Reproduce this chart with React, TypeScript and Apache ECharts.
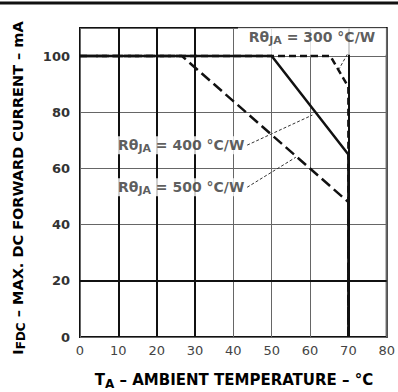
import React, { useEffect, useRef } from "react";
import * as echarts from "echarts";

const xMin = 0;
const xMax = 80;
const xStep = 10;
const yMin = 0;
const yMax = 110;
const yStep = 20;

const r300: number[][] = [[0, 100], [65.3, 100], [70, 89], [70, 0]];
const r400: number[][] = [[0, 100], [50, 100], [70, 65], [70, 0]];
const r500: number[][] = [[0, 100], [26.6, 100], [70, 48], [70, 0]];

const leader300: number[][] = [[69.7, 100.6], [67.6, 95.5]];
const leader400: number[][] = [[43.6, 68.3], [60.6, 79]];
const leader500: number[][] = [[43.6, 53.3], [56.3, 64]];

const thickX = [10, 20, 30, 70];
const thickY = [20];

const labelPos300 = [60.5, 105.3];
const labelPos400 = [43.4, 68.3];
const labelPos500 = [43.4, 53.3];
const labelR = ["300", "400", "500"];

const FONT = "DejaVu Sans, Verdana, sans-serif";

const rich = {
  a: { fontSize: 14, fontFamily: FONT, color: "#333", fontWeight: "bold" },
  s: { fontSize: 11, fontFamily: FONT, color: "#333", fontWeight: "bold", padding: [7, 0, 0, 0] },
};

function rLabel(v: string) {
  return "{a|Rθ}{s|JA}{a| = " + v + " °C/W}";
}

export default function App() {
  const ref = useRef<HTMLDivElement>(null);
  useEffect(() => {
    if (!ref.current) return;
    const chart = echarts.init(ref.current, undefined, { renderer: "svg" });
    const thinLine = { color: "#666", width: 1 };
    chart.setOption({
      animation: false,
      backgroundColor: "#fff",
      grid: {
        left: 80,
        right: 8,
        top: 28,
        bottom: 55,
        show: true,
        borderColor: "#111",
        borderWidth: 2,
      },
      xAxis: {
        type: "value",
        min: xMin,
        max: xMax,
        interval: xStep,
        axisLine: { show: false },
        axisTick: { show: false },
        splitLine: { show: true, lineStyle: thinLine },
        axisLabel: { fontSize: 13, fontFamily: FONT, color: "#444", margin: 7 },
      },
      yAxis: {
        type: "value",
        min: yMin,
        max: yMax,
        interval: yStep,
        axisLine: { show: false },
        axisTick: { show: false },
        splitLine: { show: true, lineStyle: thinLine },
        axisLabel: { fontSize: 13, fontFamily: FONT, color: "#333", fontWeight: "bold", margin: 10, showMaxLabel: false },
      },
      graphic: [
        { type: "line", shape: { x1: 0, y1: 3, x2: 398, y2: 3 }, style: { stroke: "#111", lineWidth: 3 } },
        {
          type: "text",
          x: 18,
          y: 188,
          rotation: Math.PI / 2,
          style: {
            text: "{a|I}{s|FDC}{a| – MAX. DC FORWARD CURRENT – mA}",
            align: "center",
            verticalAlign: "middle",
            rich: {
              a: { fontSize: 14.5, fontFamily: FONT, color: "#222", fontWeight: "bold" },
              s: { fontSize: 12, fontFamily: FONT, color: "#222", fontWeight: "bold", padding: [6, 0, 0, 0] },
            },
          },
        },
        {
          type: "text",
          x: 234,
          y: 380,
          style: {
            text: "{a|T}{s|A}{a| – AMBIENT TEMPERATURE – °C}",
            align: "center",
            verticalAlign: "middle",
            rich: {
              a: { fontSize: 15, fontFamily: FONT, color: "#222", fontWeight: "bold" },
              s: { fontSize: 12, fontFamily: FONT, color: "#222", fontWeight: "bold", padding: [7, 0, 0, 0] },
            },
          },
        },
      ],
      series: [
        {
          type: "line",
          data: [],
          z: 1,
          silent: true,
          markLine: {
            symbol: "none",
            silent: true,
            label: { show: false },
            lineStyle: { color: "#111", width: 2, type: "solid" },
            data: [
              ...thickX.map((v) => ({ xAxis: v })),
              ...thickY.map((v) => ({ yAxis: v })),
            ],
          },
        },
        {
          type: "scatter",
          z: 5,
          symbolSize: 0,
          silent: true,
          data: [
            {
              value: labelPos300,
              label: {
                show: true,
                position: "inside",
                formatter: rLabel(labelR[0]),
                rich,
                backgroundColor: "#fff",
                width: 148,
                height: 27,
                align: "center",
                verticalAlign: "middle",
              },
            },
            {
              value: labelPos400,
              label: {
                show: true,
                position: "left",
                distance: 0,
                formatter: rLabel(labelR[1]),
                rich,
                backgroundColor: "#fff",
                padding: [0, 2, 0, 3],
              },
            },
            {
              value: labelPos500,
              label: {
                show: true,
                position: "left",
                distance: 0,
                formatter: rLabel(labelR[2]),
                rich,
                backgroundColor: "#fff",
                padding: [0, 2, 0, 3],
              },
            },
          ],
        },
        { type: "line", data: leader300, symbol: "none", z: 6, lineStyle: { color: "#333", width: 1, type: [3, 2] } },
        { type: "line", data: leader400, symbol: "none", z: 6, lineStyle: { color: "#333", width: 1, type: [3, 2] } },
        { type: "line", data: leader500, symbol: "none", z: 6, lineStyle: { color: "#333", width: 1, type: [3, 2] } },
        { type: "line", data: r300, symbol: "none", z: 7, lineStyle: { color: "#111", width: 2.5, type: [7, 4] } },
        { type: "line", data: r400, symbol: "none", z: 8, lineStyle: { color: "#111", width: 2.5, type: "solid" } },
        { type: "line", data: r500, symbol: "none", z: 8, lineStyle: { color: "#111", width: 2.5, type: [11, 5] } },
      ],
    });
    return () => chart.dispose();
  }, []);
  return <div ref={ref} style={{ width: 398, height: 392, position: "absolute", left: 0, top: 0 }} />;
}
